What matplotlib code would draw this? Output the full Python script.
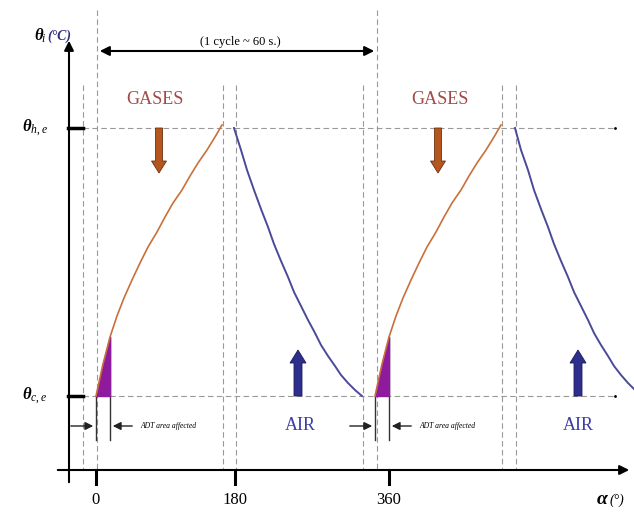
import matplotlib.pyplot as plt
from matplotlib.patches import FancyArrow

# schematic drawn in pixel-like units (x right, y down)
hot_level = 128
cold_level = 396

# heating curves (gas side)
gas1_x = [96, 103, 110, 117, 124, 132, 140, 148, 157, 165, 173, 182, 190, 198, 207, 215, 222]
gas1_y = [396, 364, 337, 316, 298, 280, 263, 247, 232, 217, 203, 190, 176, 163, 150, 137, 125]
gas2_x = [375, 382, 389, 396, 403, 411, 419, 427, 436, 444, 452, 461, 469, 477, 486, 494, 501]
gas2_y = [396, 364, 337, 316, 298, 280, 263, 247, 232, 217, 203, 190, 176, 163, 150, 137, 125]

# cooling curves (air side)
air1_x = [234, 241, 247, 254, 261, 268, 274, 281, 288, 294, 301, 308, 315, 321, 328, 335, 341, 348, 355, 362]
air1_y = [128, 150, 170, 190, 209, 227, 244, 261, 277, 292, 306, 320, 333, 345, 356, 366, 375, 383, 390, 396]
air2_x = [515, 521, 528, 534, 541, 548, 554, 561, 568, 574, 581, 588, 594, 601, 608, 614, 621, 628, 634]
air2_y = [128, 150, 170, 190, 209, 227, 244, 261, 277, 292, 306, 320, 333, 345, 356, 366, 375, 383, 389]

tick_pos = [96, 235, 389]
tick_labels = ['0', '180', '360']
dashed_full = [97, 377]
dashed_part = [83, 223, 236, 363, 502, 516]

orange = '#c9703a'
blue = '#4a4a9a'
purple = '#8e1a9e'
gas_txt = '#a24a45'
air_txt = '#3d3da3'

plt.rcParams['font.family'] = ['Liberation Serif', 'DejaVu Serif']
plt.rcParams['mathtext.fontset'] = 'custom'
plt.rcParams['mathtext.bfit'] = 'Liberation Serif:bold:italic'
plt.rcParams['mathtext.it'] = 'Liberation Serif:italic'
plt.rcParams['mathtext.rm'] = 'Liberation Serif'

fig = plt.figure(figsize=(6.34, 5.15), dpi=100)
ax = fig.add_axes([0, 0, 1, 1])
ax.set_xlim(0, 634)
ax.set_ylim(515, 0)
ax.axis('off')

grid = dict(color='#999999', lw=0.8, ls=(0, (5, 3)), zorder=1)
for x in dashed_full:
    ax.plot([x, x], [10, 470], **grid)
for x in dashed_part:
    ax.plot([x, x], [85, 470], **grid)
for y in [hot_level, cold_level]:
    ax.plot([83, 615], [y, y], **grid)
    ax.plot([615], [y], 'k.', ms=2)
    ax.plot([68, 83], [y, y], color='black', lw=2.5, zorder=3)

# axes
ax.annotate('', xy=(69, 38), xytext=(69, 485),
            arrowprops=dict(arrowstyle='-|>', color='black', lw=1.5, mutation_scale=14))
ax.annotate('', xy=(632, 470), xytext=(55, 470),
            arrowprops=dict(arrowstyle='-|>', color='black', lw=1.5, mutation_scale=14))
for x, lab in zip(tick_pos, tick_labels):
    ax.plot([x, x], [470, 484], color='black', lw=2.2)
    ax.text(x, 500, lab, ha='center', va='center', fontsize=12)

ax.text(46, 36, r'$\mathbfit{\theta}_{\!i}$', ha='right', va='center', fontsize=12)
ax.text(47, 36, '(°C)', ha='left', va='center', fontsize=10, style='italic',
        fontweight='bold', color='#30307a')
ax.text(35, hot_level, r'$\mathbfit{\theta}_{\mathit{h,e}}$', ha='center', va='center', fontsize=12)
ax.text(35, cold_level, r'$\mathbfit{\theta}_{\mathit{c,e}}$', ha='center', va='center', fontsize=12)
ax.text(609, 500, r'$\mathbfit{\alpha}$', ha='right', va='center', fontsize=14)
ax.text(610, 500, '(°)', ha='left', va='center', fontsize=10, style='italic')

# cycle arrow
ax.annotate('', xy=(97, 51), xytext=(377, 51),
            arrowprops=dict(arrowstyle='<|-|>', color='black', lw=1.5, mutation_scale=14))
ax.text(240, 42, '(1 cycle ~ 60 s.)', ha='center', va='center', fontsize=9)

# curves
for gx, gy in [(gas1_x, gas1_y), (gas2_x, gas2_y)]:
    ax.plot(gx, gy, color=orange, lw=1.2, zorder=4)
    ax.fill_between(gx[:3], gy[:3], cold_level, color=purple, zorder=3)
    ax.plot([gx[0], gx[0]], [cold_level, 440], color='#333333', lw=1)
    ax.plot([gx[2], gx[2]], [gy[2], 440], color='#333333', lw=1)
for bx, by in [(air1_x, air1_y), (air2_x, air2_y)]:
    ax.plot(bx, by, color=blue, lw=1.4, zorder=4)

# ADT arrows
for x0, x1 in [(gas1_x[0], gas1_x[2]), (gas2_x[0], gas2_x[2])]:
    ax.annotate('', xy=(x0, 426), xytext=(x0 - 28, 426),
                arrowprops=dict(arrowstyle='-|>', color='#222222', lw=1, mutation_scale=12))
    ax.annotate('', xy=(x1, 426), xytext=(x1 + 25, 426),
                arrowprops=dict(arrowstyle='-|>', color='#222222', lw=1, mutation_scale=12))
    ax.text(x1 + 30, 426, 'ADT area affected', ha='left', va='center', fontsize=5.5,
            style='italic')

# gas / air block arrows
for x in [159, 438]:
    ax.add_patch(FancyArrow(x, hot_level, 0, 45, width=7, head_width=15, head_length=12,
                            length_includes_head=True, fc='#b5561f', ec='#6b3010', lw=0.6))
for x in [298, 578]:
    ax.add_patch(FancyArrow(x, cold_level, 0, -46, width=8, head_width=16, head_length=13,
                            length_includes_head=True, fc='#2e2e8c', ec='#1c1c5c', lw=0.6))
for x in [155, 440]:
    ax.text(x, 100, 'GASES', ha='center', va='center', fontsize=13, color=gas_txt)
for x in [300, 578]:
    ax.text(x, 425, 'AIR', ha='center', va='center', fontsize=13, color=air_txt)

fig.savefig('out.png', dpi=100)
